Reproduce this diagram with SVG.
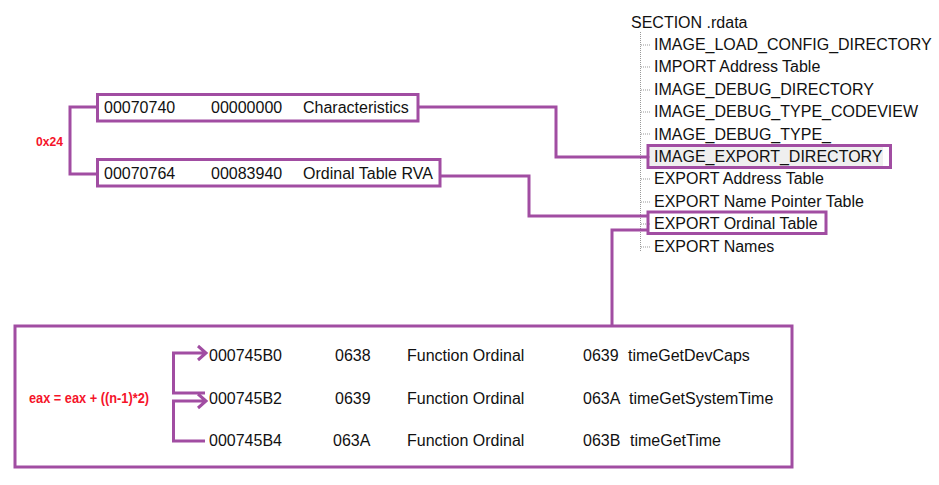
<svg xmlns="http://www.w3.org/2000/svg" width="939" height="485" viewBox="0 0 939 485">
<style>
.t{font-family:"Liberation Sans",Arial,sans-serif;font-size:16px;fill:#111}
.r{font-family:"Liberation Sans",Arial,sans-serif;fill:#f5142a;font-weight:bold}
.box{fill:none;stroke:#a14da2;stroke-width:3}
.con{fill:none;stroke:#a14da2;stroke-width:3}
.dot{fill:none;stroke:#999;stroke-width:1;stroke-dasharray:1 1}
</style>
<rect width="939" height="485" fill="#fff"/>
<g id="tree">
<text class="t" x="631" y="28">SECTION .rdata</text>
<path class="dot" d="M640.5 32V251 M641 45h10 M641 67h10 M641 90h10 M641 112h10 M641 134h10 M641 157h10 M641 179h10 M641 202h10 M641 224h10 M641 247h10"/>
<text class="t" x="654" y="50">IMAGE_LOAD_CONFIG_DIRECTORY</text>
<text class="t" x="654" y="72.4">IMPORT Address Table</text>
<text class="t" x="654" y="94.8">IMAGE_DEBUG_DIRECTORY</text>
<text class="t" x="654" y="117.2">IMAGE_DEBUG_TYPE_CODEVIEW</text>
<text class="t" x="654" y="139.6">IMAGE_DEBUG_TYPE_</text>
<text class="t" x="654" y="184.4">EXPORT Address Table</text>
<text class="t" x="654" y="206.8">EXPORT Name Pointer Table</text>
<text class="t" x="654" y="251.6">EXPORT Names</text>
</g>
<g id="export-directory">
<rect x="650" y="147" width="233" height="19" fill="#efefef"/>
<rect class="box" x="648" y="145.5" width="242.5" height="22"/>
<text class="t" x="654" y="162">IMAGE_EXPORT_DIRECTORY</text>
</g>
<g id="export-ordinal-table">
<rect class="box" x="648" y="212" width="178" height="21.5"/>
<text class="t" x="654" y="229">EXPORT Ordinal Table</text>
</g>
<g id="characteristics">
<rect class="box" x="97.5" y="94.5" width="320.5" height="26.5"/>
<text class="t" x="104" y="113">00070740</text>
<text class="t" x="211" y="113">00000000</text>
<text class="t" x="303" y="113">Characteristics</text>
</g>
<g id="ordinal-table-rva">
<rect class="box" x="97.5" y="159.5" width="342.5" height="26.5"/>
<text class="t" x="104" y="179">00070764</text>
<text class="t" x="211" y="179">00083940</text>
<text class="t" x="303" y="179">Ordinal Table RVA</text>
</g>
<g id="offset-label">
<text class="r" x="36" y="146" font-size="13.5" textLength="27" lengthAdjust="spacingAndGlyphs">0x24</text>
</g>
<g id="ordinal-table">
<rect class="box" x="15" y="326" width="777" height="141"/>
<text class="r" x="29" y="402.5" font-size="15" textLength="120" lengthAdjust="spacingAndGlyphs">eax = eax + ((n-1)*2)</text>
<text class="t" x="209" y="361">000745B0</text>
<text class="t" x="335" y="361">0638</text>
<text class="t" x="407" y="361">Function Ordinal</text>
<text class="t" x="583" y="361">0639</text>
<text class="t" x="628" y="361">timeGetDevCaps</text>
<text class="t" x="209" y="404">000745B2</text>
<text class="t" x="335" y="404">0639</text>
<text class="t" x="407" y="404">Function Ordinal</text>
<text class="t" x="583" y="404">063A</text>
<text class="t" x="629" y="404">timeGetSystemTime</text>
<text class="t" x="209" y="446">000745B4</text>
<text class="t" x="333" y="446">063A</text>
<text class="t" x="407" y="446">Function Ordinal</text>
<text class="t" x="583" y="446">063B</text>
<text class="t" x="630" y="446">timeGetTime</text>
</g>
<g id="connectors">
<path class="con" d="M97 107H70V174H97"/>
<path class="con" d="M418 107H556V157H648"/>
<path class="con" d="M440 176H529V216H648"/>
<path class="con" d="M648 230H612V326"/>
<path class="con" d="M205 393H173.5V353H206 M198 346L206 353L198 360"/>
<path class="con" d="M205 441H173.5V401H206 M198 394L206 401L198 408"/>
</g>
</svg>
